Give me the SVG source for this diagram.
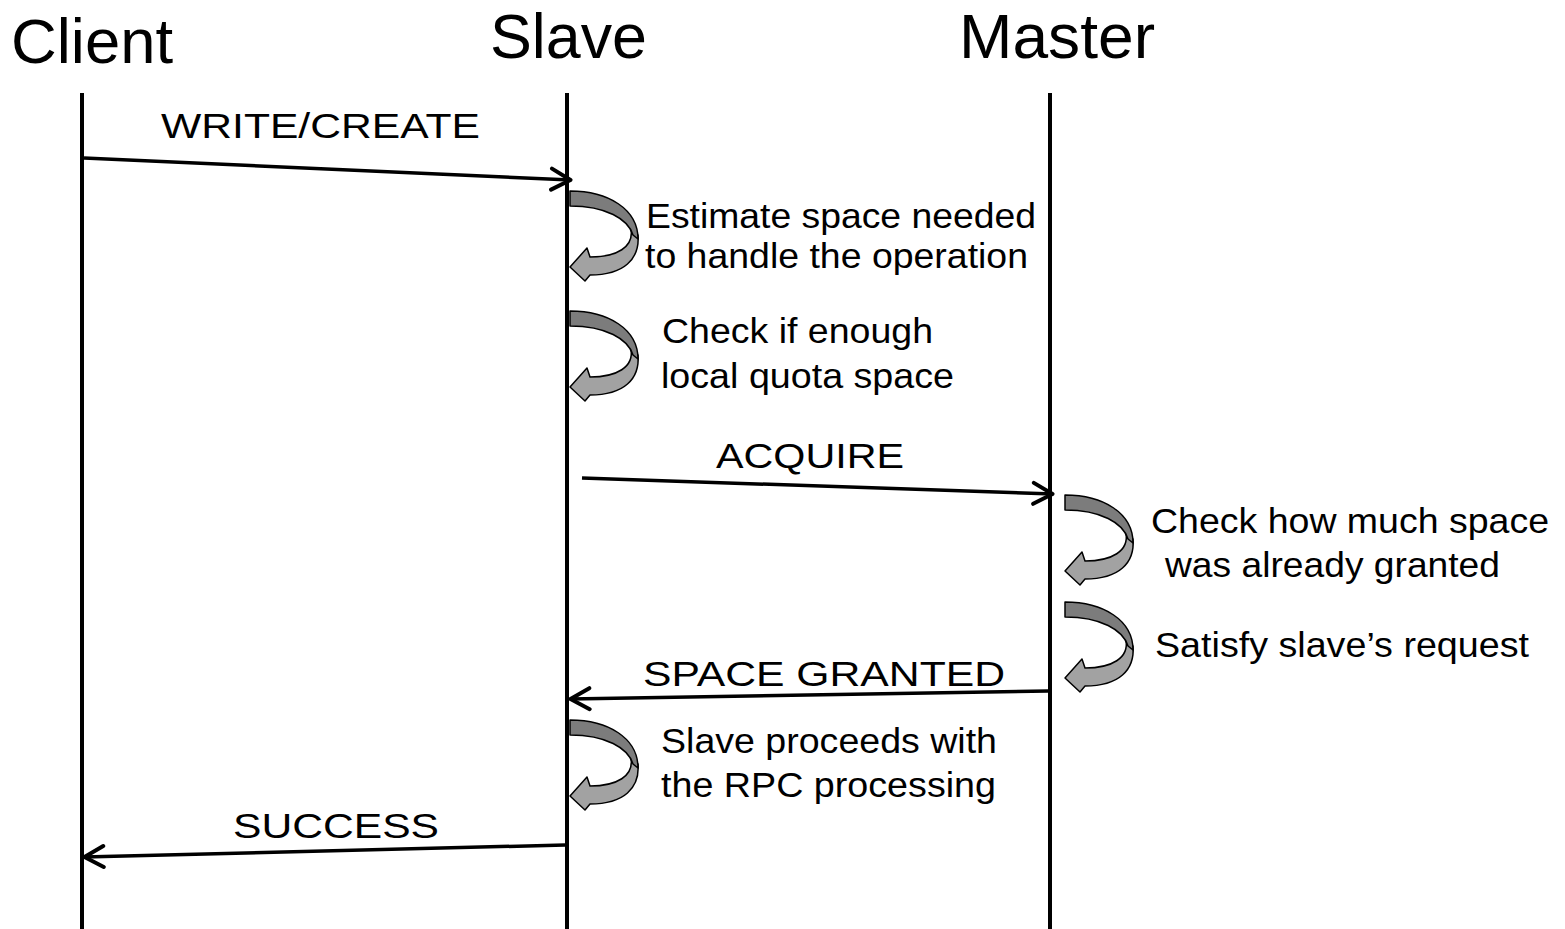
<svg xmlns="http://www.w3.org/2000/svg" xmlns:xlink="http://www.w3.org/1999/xlink" width="1565" height="929" viewBox="0 0 1565 929">
  <style>
    .title { font-family: "Liberation Sans", Arial, sans-serif; font-size: 63px; fill: #000; }
    .label { font-family: "Liberation Sans", Arial, sans-serif; font-size: 35px; fill: #000; }
    .lifeline { stroke: #000; stroke-width: 4; fill: none; }
    .msg { stroke: #000; stroke-width: 3.5; fill: none; marker-end: url(#open); }
    .back { fill: #7c7c7c; stroke: #000; stroke-width: 1.5; stroke-linejoin: round; }
    .front { fill: #a2a2a2; stroke: #000; stroke-width: 1.5; stroke-linejoin: round; }
  </style>
  <defs>
    <marker id="open" markerUnits="userSpaceOnUse" viewBox="0 0 24 26" refX="22" refY="13" markerWidth="24" markerHeight="26" orient="auto">
      <path d="M2.5,2.5 L21.5,13 L2.5,23.5" fill="none" stroke="#000" stroke-width="4" stroke-linecap="round" stroke-linejoin="round"/>
    </marker>
    <!-- self-loop curved arrow: origin is the top-left of the band -->
    <g id="loop">
      <path class="front" d="M61,38 C64,56 47,66 20,66 L17,57 L0,76 L15,90 L20,84 C54,84 70,68 68,44 Z"/>
      <path class="back" d="M0,0 C38,0 68,18 68,48 L63,44 C58,28 36,15 0,15 Z"/>
    </g>
  </defs>

  <rect width="1565" height="929" fill="#fff"/>

  <g id="client">
    <text class="title" x="11" y="63" textLength="162" lengthAdjust="spacingAndGlyphs">Client</text>
    <line class="lifeline" x1="82" y1="93" x2="82" y2="929"/>
  </g>
  <g id="slave">
    <text class="title" x="490" y="58" textLength="157" lengthAdjust="spacingAndGlyphs">Slave</text>
    <line class="lifeline" x1="567" y1="93" x2="567" y2="929"/>
  </g>
  <g id="master">
    <text class="title" x="959" y="58" textLength="196" lengthAdjust="spacingAndGlyphs">Master</text>
    <line class="lifeline" x1="1050" y1="93" x2="1050" y2="929"/>
  </g>

  <g id="connectors">
    <line class="msg" x1="84" y1="158" x2="571" y2="180"/>
    <line class="msg" x1="582" y1="478" x2="1053" y2="494"/>
    <line class="msg" x1="1048" y1="691" x2="570" y2="699"/>
    <line class="msg" x1="565" y1="845" x2="84" y2="857"/>
  </g>

  <g id="message-labels">
    <text class="label" x="161" y="138" textLength="319" lengthAdjust="spacingAndGlyphs">WRITE/CREATE</text>
    <text class="label" x="716" y="468" textLength="188" lengthAdjust="spacingAndGlyphs">ACQUIRE</text>
    <text class="label" x="643" y="686" textLength="362" lengthAdjust="spacingAndGlyphs">SPACE GRANTED</text>
    <text class="label" x="233" y="838" textLength="206" lengthAdjust="spacingAndGlyphs">SUCCESS</text>
  </g>

  <g id="step-estimate">
    <use xlink:href="#loop" href="#loop" x="570" y="191"/>
    <text class="label" x="646" y="228" textLength="390" lengthAdjust="spacingAndGlyphs">Estimate space needed</text>
    <text class="label" x="645" y="268" textLength="383" lengthAdjust="spacingAndGlyphs">to handle the operation</text>
  </g>
  <g id="step-check-local">
    <use xlink:href="#loop" href="#loop" x="570" y="311"/>
    <text class="label" x="662" y="343" textLength="271" lengthAdjust="spacingAndGlyphs">Check if enough</text>
    <text class="label" x="661" y="388" textLength="293" lengthAdjust="spacingAndGlyphs">local quota space</text>
  </g>
  <g id="step-check-granted">
    <use xlink:href="#loop" href="#loop" x="1065" y="495"/>
    <text class="label" x="1151" y="533" textLength="398" lengthAdjust="spacingAndGlyphs">Check how much space</text>
    <text class="label" x="1165" y="577" textLength="335" lengthAdjust="spacingAndGlyphs">was already granted</text>
  </g>
  <g id="step-satisfy">
    <use xlink:href="#loop" href="#loop" x="1065" y="602"/>
    <text class="label" x="1155" y="657" textLength="374" lengthAdjust="spacingAndGlyphs">Satisfy slave’s request</text>
  </g>
  <g id="step-proceed">
    <use xlink:href="#loop" href="#loop" x="570" y="720"/>
    <text class="label" x="661" y="753" textLength="336" lengthAdjust="spacingAndGlyphs">Slave proceeds with</text>
    <text class="label" x="661" y="797" textLength="335" lengthAdjust="spacingAndGlyphs">the RPC processing</text>
  </g>
</svg>
